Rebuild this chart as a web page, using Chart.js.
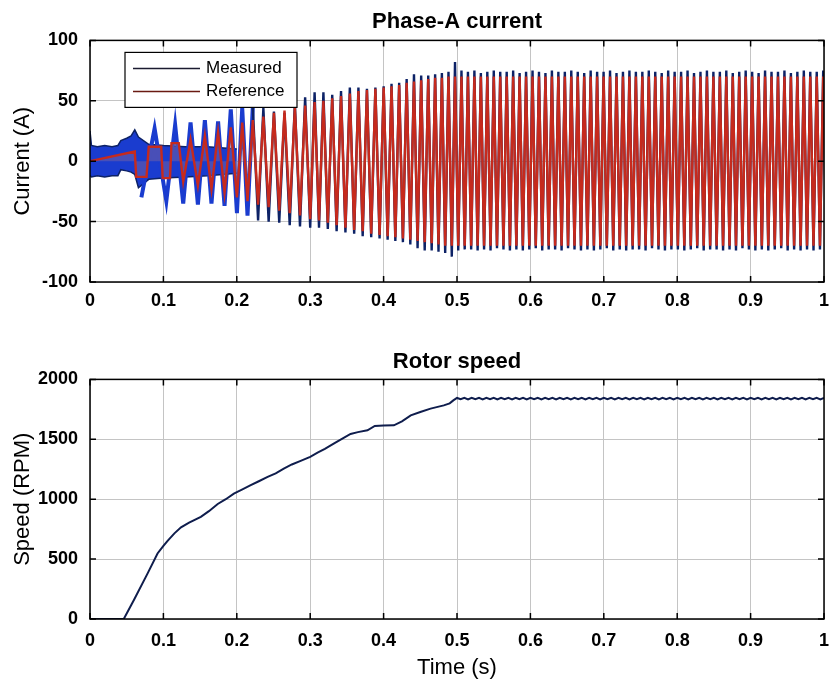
<!DOCTYPE html>
<html>
<head>
<meta charset="utf-8">
<title>Phase-A current and rotor speed</title>
<script src="https://cdn.jsdelivr.net/npm/chart.js@4.4.1/dist/chart.umd.min.js"></script>
<style>
  body { margin: 0; background: #fff; }
  canvas { display: block; }
</style>
</head>
<body>
<canvas id="currentChart" width="832" height="330"></canvas>
<canvas id="speedChart" width="832" height="351"></canvas>
<script>
// Tick labels
const timeTicks = ['0', '0.1', '0.2', '0.3', '0.4', '0.5', '0.6', '0.7', '0.8', '0.9', '1'];
const currentTicks = ['-100', '-50', '0', '50', '100'];
const speedTicks = ['0', '500', '1000', '1500', '2000'];

// Measured current: start-up ripple band (A)
const bandTimes = [0, 0.002, 0.01, 0.02, 0.03, 0.038, 0.042, 0.05, 0.056, 0.061, 0.066, 0.08, 0.1, 0.13, 0.16, 0.2];
const bandUpper = [25, 13, 12, 13, 12, 13, 17, 19, 21, 26, 20, 14, 13, 12, 12, 10];
const bandLower = [-12, -13, -12, -13, -12, -12, -7, -8, -9, -11, -22, -15, -14, -13, -12, -10];

// Reference current before the first full swing (A)
const refEarlyTimes = [0, 0.061, 0.063, 0.077, 0.080, 0.097, 0.099, 0.109, 0.111, 0.121];
const refEarlyValues = [0, 8, -13, -13, 12, 12, -14, -14, 15, 15];

// Half-cycle peak times of the phase current (s)
const peakTimes = [
  0.070, 0.088, 0.104, 0.116, 0.127, 0.137, 0.147, 0.1565, 0.1655, 0.1745, 0.1833, 0.1918, 0.2002,
  0.2074, 0.2146, 0.2218, 0.229, 0.2362, 0.2434, 0.2506, 0.2578, 0.265, 0.2721, 0.2791, 0.2861, 0.2931, 0.3,
  0.306, 0.312, 0.318, 0.324, 0.33, 0.336, 0.342, 0.348, 0.354, 0.3599, 0.3657, 0.3715, 0.3773, 0.3831, 0.3888, 0.3945, 0.4001,
  0.4055, 0.4108, 0.416, 0.4212, 0.4263, 0.4314, 0.4364, 0.4414, 0.4463, 0.4512,
  0.456, 0.4608, 0.4655, 0.4702, 0.4748, 0.4794, 0.4839, 0.4884, 0.4929, 0.4973,
  0.5017, 0.5061, 0.5105, 0.5149, 0.5193, 0.5237, 0.5281, 0.5325, 0.5369, 0.5413,
  0.5457, 0.5501, 0.5545, 0.5589, 0.5633, 0.5677, 0.5721, 0.5765, 0.5809, 0.5853,
  0.5897, 0.5941, 0.5985, 0.6029, 0.6073, 0.6117, 0.6161, 0.6205, 0.6249, 0.6293,
  0.6337, 0.6381, 0.6425, 0.6469, 0.6513, 0.6557, 0.6601, 0.6645, 0.6689, 0.6733,
  0.6777, 0.6821, 0.6865, 0.6909, 0.6953, 0.6997, 0.7041, 0.7085, 0.7129, 0.7173,
  0.7217, 0.7261, 0.7305, 0.7349, 0.7393, 0.7437, 0.7481, 0.7525, 0.7569, 0.7613,
  0.7657, 0.7701, 0.7745, 0.7789, 0.7833, 0.7877, 0.7921, 0.7965, 0.8009, 0.8053,
  0.8097, 0.8141, 0.8185, 0.8229, 0.8273, 0.8317, 0.8361, 0.8405, 0.8449, 0.8493,
  0.8537, 0.8581, 0.8625, 0.8669, 0.8713, 0.8757, 0.8801, 0.8845, 0.8889, 0.8933,
  0.8977, 0.9021, 0.9065, 0.9109, 0.9153, 0.9197, 0.9241, 0.9285, 0.9329, 0.9373,
  0.9417, 0.9461, 0.9505, 0.9549, 0.9593, 0.9637, 0.9681, 0.9725, 0.9769, 0.9813,
  0.9857, 0.9901, 0.9945, 0.9989, 1.0033
];

// Measured current at each peak (A)
const measuredPeaks = [
  -30, 27, -33, 30, -35, 32, -36, 34, -35, 33, -37, 43, -43,
  44, -45, 45, -49, 44, -50, 41, -51, 40, -53, 48, -54, 53, -55,
  57, -55, 57, -56, 55, -58, 58, -59, 61, -60, 61, -62, 60, -63, 61, -64, 62,
  -65, 64, -66, 65, -67, 68, -69, 72, -72, 71,
  -74, 71, -74, 72, -75, 73, -76, 74, -79, 82,
  -74, 75, -73, 74, -73, 75, -74, 73, -73, 74,
  -74, 75, -72, 74, -73, 74, -74, 75, -73, 73,
  -74, 74, -73, 75, -72, 74, -74, 73, -73, 75,
  -73, 74, -74, 74, -72, 75, -73, 74, -74, 73,
  -73, 75, -74, 74, -73, 74, -72, 75, -74, 73,
  -73, 74, -74, 75, -73, 74, -73, 74, -74, 75,
  -72, 74, -73, 73, -74, 75, -73, 74, -73, 74,
  -74, 75, -73, 73, -72, 74, -74, 75, -73, 74,
  -73, 74, -74, 75, -73, 73, -74, 74, -72, 75,
  -73, 74, -74, 73, -73, 75, -74, 74, -73, 74,
  -72, 75, -74, 73, -73, 74, -74, 75, -73, 74,
  -74, 74, -73, 75, -73
];

// Reference current at each peak (A)
const referencePeaks = [
  -13, 12, -14, 15, -17, 18, -20, 21, -23, 24, -26, 28, -30,
  32, -33, 34, -36, 37, -38, 40, -41, 42, -43, 44, -45, 46, -48,
  49, -49, 50, -51, 52, -53, 54, -55, 56, -57, 58, -58, 59, -60, 60, -61, 61,
  -62, 62, -63, 63, -64, 65, -65, 66, -66, 67,
  -67, 68, -68, 69, -69, 69, -70, 70, -70, 70,
  -70, 70, -70, 70, -70, 70, -70, 70, -70, 70,
  -70, 70, -70, 70, -70, 70, -70, 70, -70, 70,
  -70, 70, -70, 70, -70, 70, -70, 70, -70, 70,
  -70, 70, -70, 70, -70, 70, -70, 70, -70, 70,
  -70, 70, -70, 70, -70, 70, -70, 70, -70, 70,
  -70, 70, -70, 70, -70, 70, -70, 70, -70, 70,
  -70, 70, -70, 70, -70, 70, -70, 70, -70, 70,
  -70, 70, -70, 70, -70, 70, -70, 70, -70, 70,
  -70, 70, -70, 70, -70, 70, -70, 70, -70, 70,
  -70, 70, -70, 70, -70, 70, -70, 70, -70, 70,
  -70, 70, -70, 70, -70, 70, -70, 70, -70, 70,
  -70, 70, -70, 70, -70
];

// Rotor speed (RPM)
const speedTimes = [
  0, 0.046, 0.06, 0.0785, 0.092, 0.1, 0.106, 0.115, 0.124, 0.135,
  0.151, 0.162, 0.174, 0.185, 0.196, 0.207, 0.219, 0.23, 0.242, 0.253,
  0.264, 0.275, 0.287, 0.3, 0.31, 0.32, 0.332, 0.345, 0.355, 0.365,
  0.378, 0.388, 0.4, 0.414, 0.425, 0.437, 0.45, 0.464, 0.482, 0.49, 0.495,
  0.5, 0.505, 0.51, 0.515, 0.52, 0.525, 0.53, 0.535, 0.54, 0.545,
  0.55, 0.555, 0.56, 0.565, 0.57, 0.575, 0.58, 0.585, 0.59, 0.595,
  0.6, 0.605, 0.61, 0.615, 0.62, 0.625, 0.63, 0.635, 0.64, 0.645,
  0.65, 0.655, 0.66, 0.665, 0.67, 0.675, 0.68, 0.685, 0.69, 0.695,
  0.7, 0.705, 0.71, 0.715, 0.72, 0.725, 0.73, 0.735, 0.74, 0.745,
  0.75, 0.755, 0.76, 0.765, 0.77, 0.775, 0.78, 0.785, 0.79, 0.795,
  0.8, 0.805, 0.81, 0.815, 0.82, 0.825, 0.83, 0.835, 0.84, 0.845,
  0.85, 0.855, 0.86, 0.865, 0.87, 0.875, 0.88, 0.885, 0.89, 0.895,
  0.9, 0.905, 0.91, 0.915, 0.92, 0.925, 0.93, 0.935, 0.94, 0.945,
  0.95, 0.955, 0.96, 0.965, 0.97, 0.975, 0.98, 0.985, 0.99, 0.995,
  1.0
];
const speedValues = [
  0, 0, 160, 381, 547, 610, 655, 715, 765, 805,
  853, 900, 960, 1000, 1047, 1080, 1117, 1150, 1186, 1215,
  1256, 1290, 1320, 1353, 1388, 1420, 1464, 1510, 1545, 1560,
  1575, 1612, 1615, 1617, 1650, 1700, 1728, 1756, 1783, 1800, 1825,
  1845, 1834, 1846, 1833, 1847, 1834, 1846, 1833, 1846, 1834,
  1847, 1833, 1846, 1834, 1846, 1833, 1847, 1834, 1846, 1833,
  1846, 1834, 1847, 1833, 1846, 1834, 1846, 1833, 1847, 1834,
  1846, 1833, 1846, 1834, 1847, 1833, 1846, 1834, 1846, 1833,
  1847, 1834, 1846, 1833, 1846, 1834, 1847, 1833, 1846, 1834,
  1846, 1833, 1847, 1834, 1846, 1833, 1846, 1834, 1847, 1833,
  1846, 1834, 1846, 1833, 1847, 1834, 1846, 1833, 1846, 1834,
  1847, 1833, 1846, 1834, 1846, 1833, 1847, 1834, 1846, 1833,
  1846, 1834, 1847, 1833, 1846, 1834, 1846, 1833, 1847, 1834,
  1846, 1833, 1846, 1834, 1847, 1833, 1846, 1834, 1846, 1833,
  1845
];

// Styles
Chart.defaults.font.family = 'Arial, "Liberation Sans", Helvetica, sans-serif';
Chart.defaults.color = '#000';
const tickFont = { size: 18, weight: 'bold' };
const gridColor = '#c4c4c4';
const measuredDark = '#0d2266';
const measuredBright = '#1a3ccf';
const referenceRed = '#c62a1d';

const pts = (xs, ys) => xs.map((x, i) => ({ x: x, y: ys[i] }));

// Black box round the plot with inward tick marks, like MATLAB
const matlabFrame = {
  id: 'matlabFrame',
  afterDatasetsDraw(chart) {
    const { ctx, chartArea: a, scales } = chart;
    ctx.save();
    ctx.strokeStyle = '#000';
    ctx.lineWidth = 1.5;
    ctx.beginPath();
    scales.x.ticks.forEach(t => {
      const px = scales.x.getPixelForValue(t.value);
      ctx.moveTo(px, a.bottom); ctx.lineTo(px, a.bottom - 6);
      ctx.moveTo(px, a.top); ctx.lineTo(px, a.top + 6);
    });
    scales.y.ticks.forEach(t => {
      const py = scales.y.getPixelForValue(t.value);
      ctx.moveTo(a.left, py); ctx.lineTo(a.left + 6, py);
      ctx.moveTo(a.right, py); ctx.lineTo(a.right - 6, py);
    });
    ctx.stroke();
    ctx.strokeRect(a.left, a.top, a.right - a.left, a.bottom - a.top);
    ctx.restore();
  }
};

// Legend box inside the top plot
const boxLegend = {
  id: 'boxLegend',
  afterDatasetsDraw(chart) {
    const { ctx, chartArea: a } = chart;
    const items = chart.data.datasets.filter(d => d.legendColor)
      .sort((p, q) => p.legendIndex - q.legendIndex);
    const x = a.left + 35, y = a.top + 12, w = 172, h = 55;
    ctx.save();
    ctx.fillStyle = '#fff';
    ctx.fillRect(x, y, w, h);
    ctx.strokeStyle = '#000';
    ctx.lineWidth = 1.2;
    ctx.strokeRect(x, y, w, h);
    ctx.font = '17px Arial, "Liberation Sans", sans-serif';
    ctx.textBaseline = 'middle';
    items.forEach((d, i) => {
      const ly = y + 16 + i * 23;
      ctx.strokeStyle = d.legendColor;
      ctx.lineWidth = 1.5;
      ctx.beginPath();
      ctx.moveTo(x + 8, ly);
      ctx.lineTo(x + 75, ly);
      ctx.stroke();
      ctx.fillStyle = '#000';
      ctx.fillText(d.label, x + 81, ly);
    });
    ctx.restore();
  }
};

function axisX(height, pad, withTitle) {
  return {
    type: 'linear', min: 0, max: 1,
    afterFit: s => { s.height = height; s.paddingLeft = 0; s.paddingRight = 0; },
    ticks: { stepSize: 0.1, autoSkip: false, maxRotation: 0, padding: pad, font: tickFont,
             callback: (v, i) => timeTicks[i] },
    grid: { color: gridColor, drawTicks: false },
    border: { display: false },
    title: { display: withTitle, text: 'Time (s)', font: { size: 22 }, padding: { top: 0, bottom: 0 } }
  };
}

function axisY(min, max, step, labels, title) {
  return {
    min: min, max: max,
    afterFit: s => { s.width = 90; },
    ticks: { stepSize: step, padding: 12, font: tickFont, callback: (v, i) => labels[i] },
    grid: { color: gridColor, drawTicks: false },
    border: { display: false },
    title: { display: true, text: title, font: { size: 22 }, padding: { top: 10 } }
  };
}

const refData = pts(refEarlyTimes, refEarlyValues)
  .concat(pts(peakTimes, referencePeaks).filter(p => p.x > 0.122));

new Chart(document.getElementById('currentChart'), {
  type: 'line',
  data: {
    datasets: [
      { label: 'Reference', legendColor: '#6a1a12', legendIndex: 1, data: refData,
        borderColor: referenceRed, borderWidth: 2.4, order: 0,
        fill: 'origin', backgroundColor: 'rgba(240, 150, 100, 0.22)' },
      { label: 'Measured', legendColor: '#1b1b30', legendIndex: 0, data: pts(peakTimes, measuredPeaks),
        borderColor: measuredDark, borderWidth: 2.4, order: 1,
        segment: {
          borderColor: c => c.p0.parsed.x < 0.22 ? measuredBright : measuredDark,
          borderWidth: c => c.p0.parsed.x < 0.22 ? 4 : 2.4
        } },
      { label: 'band-top', data: pts(bandTimes, bandUpper), borderColor: measuredDark, borderWidth: 1.5, order: 2 },
      { label: 'band-bottom', data: pts(bandTimes, bandLower), borderColor: measuredDark, borderWidth: 1.5,
        backgroundColor: measuredBright, fill: 2, order: 2 }
    ]
  },
  options: {
    responsive: false,
    animation: false,
    devicePixelRatio: 1,
    layout: { padding: { left: 0, right: 8, top: 0, bottom: 0 } },
    elements: { point: { radius: 0 }, line: { tension: 0 } },
    plugins: {
      legend: { display: false },
      tooltip: { enabled: false },
      title: { display: true, fullSize: false, text: 'Phase-A current', font: { size: 22, weight: 'bold' },
               padding: { top: 9, bottom: 5 } }
    },
    scales: {
      x: axisX(48, 8, false),
      y: axisY(-100, 100, 50, currentTicks, 'Current (A)')
    }
  },
  plugins: [matlabFrame, boxLegend]
});

new Chart(document.getElementById('speedChart'), {
  type: 'line',
  data: {
    datasets: [
      { label: 'Speed', data: pts(speedTimes, speedValues), borderColor: '#0f1d4d', borderWidth: 2 }
    ]
  },
  options: {
    responsive: false,
    animation: false,
    devicePixelRatio: 1,
    layout: { padding: { left: 0, right: 8, top: 0, bottom: 0 } },
    elements: { point: { radius: 0 }, line: { tension: 0 } },
    plugins: {
      legend: { display: false },
      tooltip: { enabled: false },
      title: { display: true, fullSize: false, text: 'Rotor speed', font: { size: 22, weight: 'bold' },
               padding: { top: 19, bottom: 4 } }
    },
    scales: {
      x: axisX(62, 11, true),
      y: axisY(0, 2000, 500, speedTicks, 'Speed (RPM)')
    }
  },
  plugins: [matlabFrame]
});
</script>
</body>
</html>
